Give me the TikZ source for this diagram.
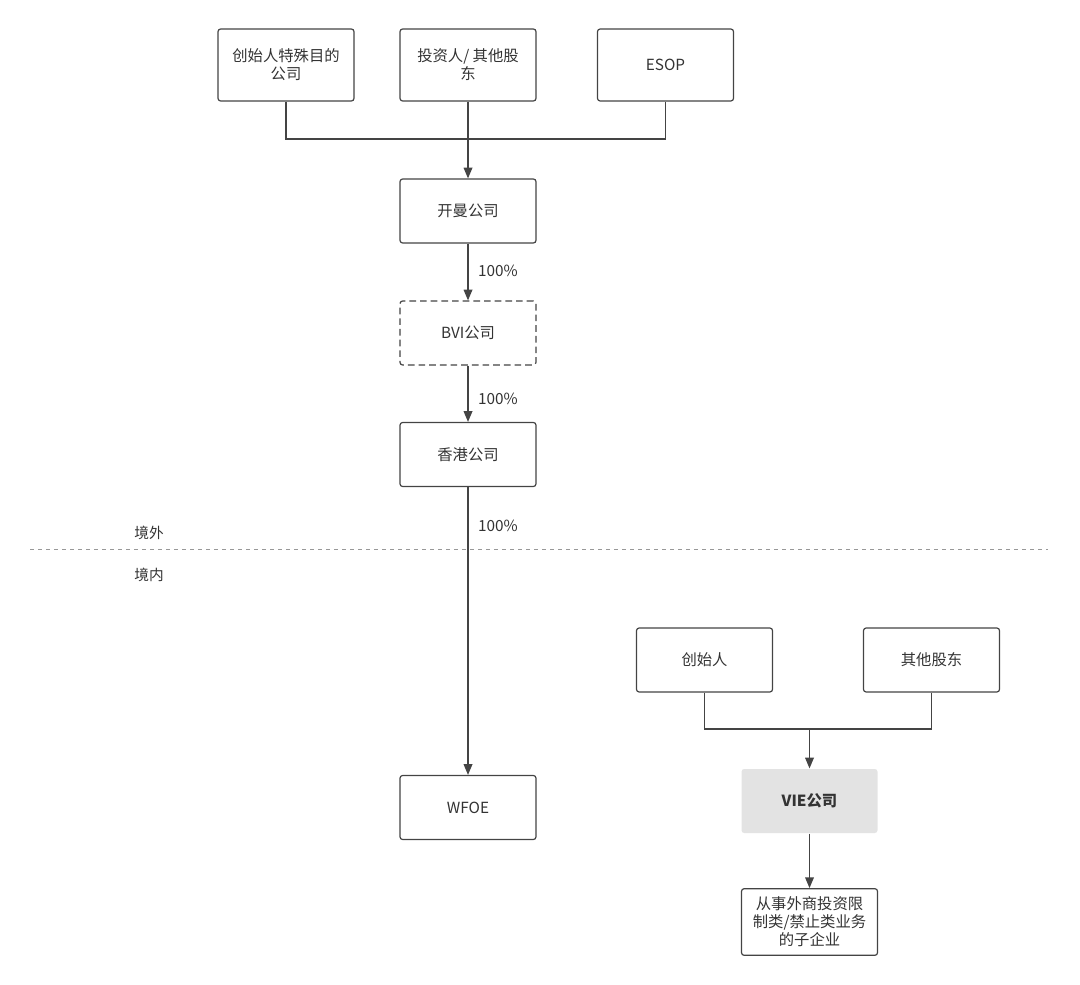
\documentclass[tikz,border=0pt]{standalone}
\usepackage{fontspec}
\setmainfont{Noto Sans CJK SC}
\usetikzlibrary{arrows.meta}
\definecolor{linegray}{HTML}{444444}
\definecolor{textgray}{HTML}{333333}
\definecolor{viefill}{HTML}{E3E3E3}

\begin{document}
\begin{tikzpicture}[
  x=0.75pt, y=-0.75pt,
  entity/.style={
    draw=linegray, rounded corners=2pt, line width=0.9pt,
    minimum width=102pt, minimum height=48pt,
    inner sep=2pt,
    font=\fontsize{11.5}{13.5}\selectfont, text=textgray, align=center
  },
  tall/.style={minimum height=54pt},
  pct/.style={font=\fontsize{11.5}{13.5}\selectfont, text=textgray, anchor=west},
  zone/.style={font=\fontsize{11}{13.5}\selectfont, text=textgray},
  link/.style={draw=linegray, line width=0.9pt},
  flow/.style={link, -{Triangle[length=8pt,width=6.5pt]}}
]
\useasboundingbox (0,0) rectangle (1080,984);

% --- offshore ---
\node[entity, tall] (spv) at (286,65) {创始人特殊目的\\公司};
\node[entity, tall] (inv) at (468,65) {投资人/ 其他股\\东};
\node[entity, tall] (esop) at (665.5,65) {ESOP};

\node[entity] (cayman) at (468,211) {开曼公司};
\node[entity, dashed, dash pattern=on 5pt off 3pt] (bvi) at (468,333) {BVI公司};
\node[entity] (hk) at (468,454.5) {香港公司};

\coordinate (bus) at (468,139);
\draw[link] (spv.south) |- (bus);
\draw[link] (esop.south) |- (bus);
\draw[flow] (inv.south) -- (cayman.north);

\draw[flow] (cayman) -- (bvi) node[pct] (p1) at (473,271) {100\%};
\draw[flow] (bvi) -- (hk) node[pct] (p2) at (473,399) {100\%};

% --- border ---
\coordinate (lineL) at (30,549);
\coordinate (lineR) at (1048,549);
\draw[linegray!55, line width=0.75pt, dash pattern=on 3pt off 3pt] (lineL) -- (lineR);
\node[zone] (abroad) at (149,533) {境外};
\node[zone] (home) at (149,575) {境内};

% --- onshore ---
\node[entity] (wfoe) at (468,807.5) {WFOE};
\draw[flow] (hk) -- (wfoe) node[pct] (p3) at (473,526) {100\%};

\node[entity] (founder) at (704.5,660) {创始人};
\node[entity] (others) at (931.5,660) {其他股东};
\node[entity, draw=none, fill=viefill, font=\fontsize{11.5}{13.5}\selectfont\bfseries] (vie) at (809.5,801) {VIE公司};
\node[entity, minimum height=50pt] (sub) at (809.5,922) {从事外商投资限\\制类/禁止类业务\\的子企业};

\coordinate (bus2) at (809.5,729);
\draw[link] (founder.south) |- (bus2);
\draw[link] (others.south) |- (bus2);
\draw[flow] (bus2) -- (vie.north);
\draw[flow] (vie) -- (sub);

\end{tikzpicture}
\end{document}
